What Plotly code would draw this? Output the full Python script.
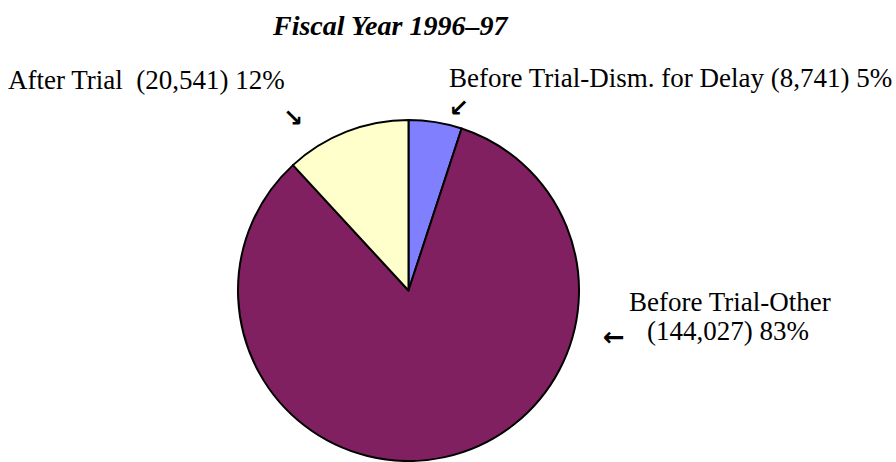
import plotly.graph_objects as go

categories = ["Before Trial-Dism. for Delay", "Before Trial-Other", "After Trial"]
values = [8741, 144027, 20541]
percents = ["5%", "83%", "12%"]
colors = ["#8080FF", "#802060", "#FFFFCC"]
title_text = "Fiscal Year 1996\u201397"

W, H = 896, 462

def px(x):
    return x / W

def py(y):
    return 1 - y / H

fig = go.Figure(go.Pie(
    labels=categories,
    values=values,
    sort=False,
    direction="clockwise",
    rotation=0,
    marker=dict(colors=colors, line=dict(color="black", width=2)),
    textinfo="none",
    hoverinfo="none",
    domain=dict(x=[px(238), px(579)], y=[py(461), py(120)]),
))

serif = "Liberation Serif, Times New Roman, serif"
arrowfont = dict(family="DejaVu Sans", size=24, color="black", weight="bold")
labfont = dict(family=serif, size=27, color="black")

def fmt(v):
    return f"({v:,})"

annos = [
    dict(x=px(270), y=py(26), text=f"<b><i>{title_text}</i></b>",
         font=dict(family=serif, size=28, color="black")),
    dict(x=px(6), y=py(80), text=f"{categories[2]}  {fmt(values[2])} {percents[2]}", font=labfont),
    dict(x=px(447), y=py(78), text=f"{categories[0]} {fmt(values[0])} {percents[0]}", font=labfont),
    dict(x=px(627), y=py(302), text=categories[1], font=labfont),
    dict(x=px(645), y=py(331), text=f"{fmt(values[1])} {percents[1]}", font=labfont),
    dict(x=px(281), y=py(118), text="\u2198", font=arrowfont),
    dict(x=px(447), y=py(108), text="\u2199", font=arrowfont),
    dict(x=px(601), y=py(337), text="\u2190", font=dict(family="DejaVu Sans", size=26, color="black", weight="bold")),
]
for a in annos:
    a.update(xref="paper", yref="paper", xanchor="left", yanchor="middle", showarrow=False)

fig.update_layout(
    width=W, height=H,
    margin=dict(l=0, r=0, t=0, b=0),
    paper_bgcolor="white", plot_bgcolor="white",
    showlegend=False,
    annotations=annos,
)

fig.write_html("out.html", config={"displayModeBar": False, "staticPlot": True},
               post_script="document.body.style.margin='0';document.body.style.overflow='hidden';")
